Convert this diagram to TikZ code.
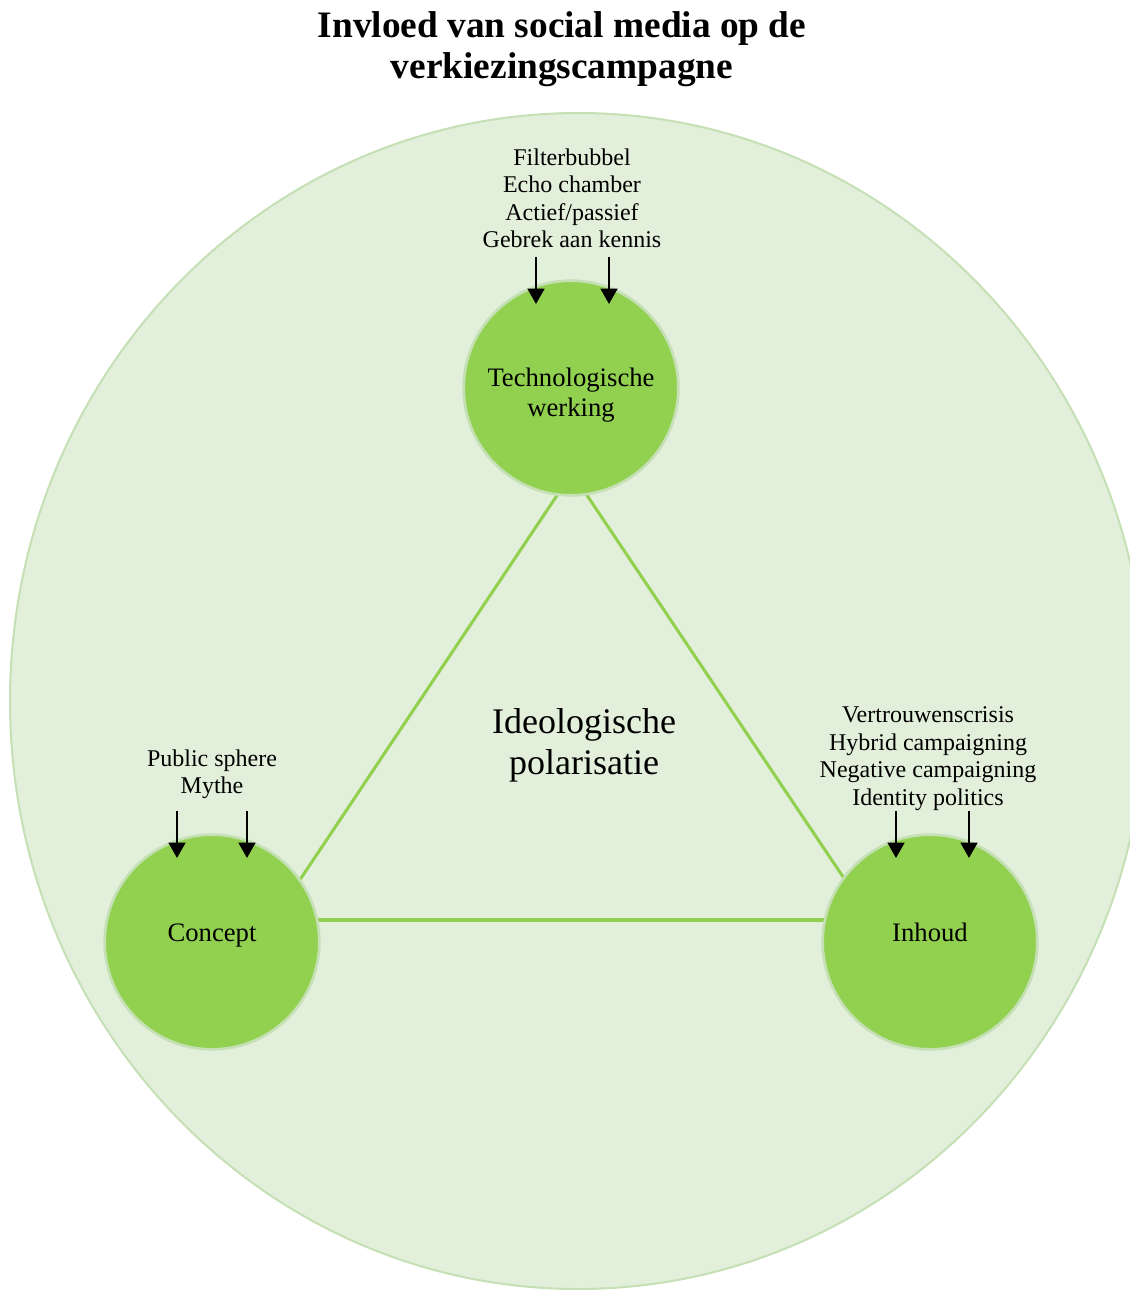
\documentclass[tikz,border=0pt]{standalone}
\usepackage{fontspec}
\setmainfont{Liberation Serif}
\usetikzlibrary{arrows.meta,calc}
\definecolor{bolgroen}{HTML}{92D050}
\definecolor{randgroen}{HTML}{C5E0B4}
\definecolor{vlakgroen}{HTML}{E2EFDA}
\tikzset{
  kern/.style={circle, fill=bolgroen, draw=randgroen, line width=2pt,
    minimum size=161pt, inner sep=0pt, align=center,
    font=\fontsize{20}{22.5}\selectfont},
  hoger/.style={text height=14pt, text depth=14.5pt},
  lager/.style={text height=46.5pt, text depth=4.4pt},
  lijst/.style={align=center, inner sep=0pt, font=\fontsize{18}{20.6}\selectfont},
  pijl/.style={-{Triangle[width=12.5pt,length=11.5pt]}, line width=1.9pt},
  zijde/.style={bolgroen, line width=2.3pt}
}
\begin{document}
\begin{tikzpicture}[x=0.75pt,y=-0.75pt]
  \useasboundingbox (0,0) rectangle (1130,1290);
  \node[align=center, inner sep=0pt, font=\bfseries\fontsize{28}{31}\selectfont]
    (titel) at (562,49) {Invloed van social media op de\\verkiezingscampagne};
  \draw[fill=vlakgroen, draw=randgroen, line width=1.5pt]
    (578,701) ellipse [x radius=426pt, y radius=441pt];
  \coordinate (top) at (572,473);
  \coordinate (links) at (273,920);
  \coordinate (rechts) at (872,920);
  \begin{scope}[zijde]
    \draw (top) to (links);
    \draw (links) to (rechts);
    \draw (rechts) to (top);
  \end{scope}
  \node[font=\fontsize{27}{31}\selectfont, align=center, inner sep=0pt]
    (midden) at (584,745.5) {Ideologische\\polarisatie};
  \node[kern, lager] (tech) at (571,388) {Technologische\\werking};
  \node[kern, hoger] (concept) at (212,942) {Concept};
  \node[kern, hoger] (inhoud) at (930,942) {Inhoud};
  \node[lijst] (techlijst) at (572,198.5)
    {Filterbubbel\\Echo chamber\\Actief/passief\\Gebrek aan kennis};
  \node[lijst] (conceptlijst) at (212,774.5) {Public sphere\\Mythe};
  \node[lijst] (inhoudlijst) at (928,758.5)
    {Vertrouwenscrisis\\Hybrid campaigning\\Negative campaigning\\Identity politics};
  \foreach \bol/\dx in {tech/-35, tech/38, concept/-35, concept/35, inhoud/-34, inhoud/39}
    \draw[pijl] ($(\bol)+(\dx,-131)$) -- ($(\bol)+(\dx,-84)$);
\end{tikzpicture}
\end{document}
